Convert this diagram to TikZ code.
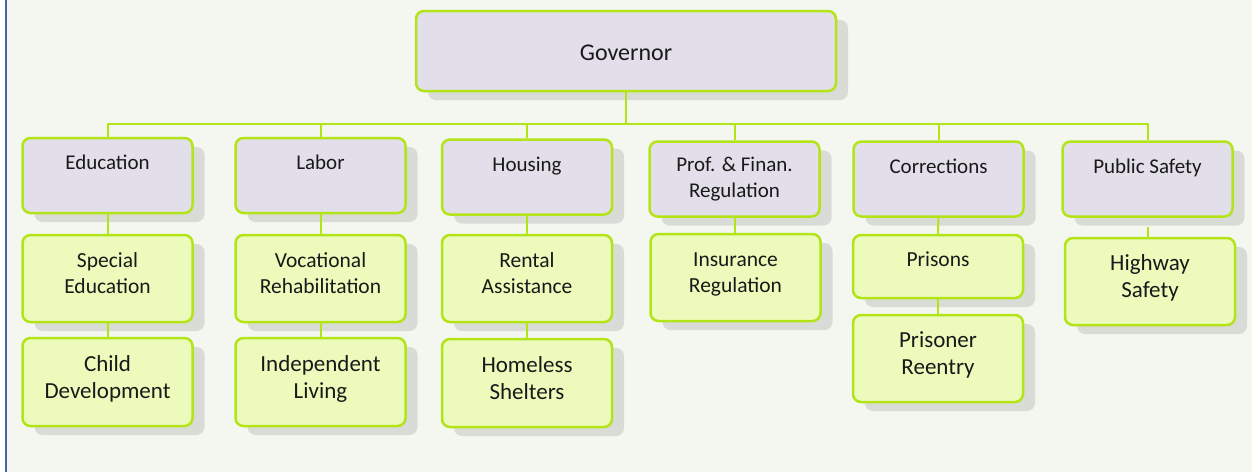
\documentclass[tikz,border=0pt]{standalone}
\usepackage{fontspec}
\setmainfont{Carlito}
\usepackage{tikz}
\usetikzlibrary{shadows}

\definecolor{pagebg}{RGB}{244,247,239}
\definecolor{frameblue}{RGB}{68,106,162}
\definecolor{limeline}{RGB}{178,228,24}
\definecolor{deptfill}{RGB}{227,223,234}
\definecolor{unitfill}{RGB}{236,251,188}
\definecolor{shadowgray}{RGB}{217,219,214}

\tikzset{
  box/.style={draw=limeline, line width=2.5pt, rounded corners=8pt,
    align=center, inner sep=0pt, minimum width=170pt, text=black!90,
    drop shadow={fill=shadowgray, opacity=1, shadow xshift=12pt, shadow yshift=-9pt}},
  dept/.style={box, fill=deptfill, minimum height=75pt, font=\fontsize{21}{26}\selectfont},
  onetop/.style={text depth=26pt},
  unit/.style={box, fill=unitfill, minimum height=87pt, font=\fontsize{21.5}{26}\selectfont, text depth=10pt},
  bigunit/.style={unit, font=\fontsize{23}{27}\selectfont},
  link/.style={draw=limeline, line width=2pt}
}

\begin{document}
\begin{tikzpicture}[x=1pt, y=-1pt]
        \useasboundingbox (0,0) rectangle (1252,472);
        \fill [pagebg] (7,0) rectangle (1252,472);
        \draw [frameblue, line width=2pt] (6,0) -- (6,472);

        \node (gov) at (626,51) [box, fill=deptfill, minimum width=420pt, minimum height=80pt,
            text height=20pt, font=\fontsize{24}{29}\selectfont] {Governor};

        \node (edu) at (107.5,175.5) [dept, onetop] {Education};
        \node (lab) at (320.5,175.5) [dept, onetop] {Labor};
        \node (hou) at (527,177) [dept, onetop] {Housing};
        \node (prof) at (734.5,179) [dept] {Prof. \& Finan.\\Regulation};
        \node (cor) at (938.5,179) [dept, onetop] {Corrections};
        \node (pub) at (1147.5,179) [dept, onetop] {Public Safety};

        \node (sped) at (107.5,278.5) [unit] {Special\\Education};
        \node (child) at (107.5,382) [bigunit, minimum height=88pt] {Child\\Development};
        \node (voc) at (320.5,278.5) [unit] {Vocational\\Rehabilitation};
        \node (indep) at (320.5,382) [bigunit, minimum height=88pt] {Independent\\Living};
        \node (rent) at (527,278.5) [unit] {Rental\\Assistance};
        \node (home) at (527,383) [bigunit, minimum height=88pt] {Homeless\\Shelters};
        \node (ins) at (735.5,277.5) [unit] {Insurance\\Regulation};
        \node (pris) at (938,266.5) [unit, minimum height=63pt, text depth=15pt] {Prisons};
        \node (reent) at (938,358.5) [bigunit] {Prisoner\\Reentry};
        \node (high) at (1150,281.5) [bigunit] {Highway\\Safety};

        % bus line below the governor
        \coordinate (bus) at (626,124);
        \foreach \d in {edu,lab,hou,prof,cor,pub}
            \draw [link] (gov.south) -- (bus) -| (\d.north);

        \draw [link] (edu) -- (sped);
        \draw [link] (sped) -- (child);
        \draw [link] (lab) -- (voc);
        \draw [link] (voc) -- (indep);
        \draw [link] (hou) -- (rent);
        \draw [link] (rent) -- (home);
        \draw [link] (prof.south) -- (prof.south |- ins.north);
        \draw [link] (cor) -- (pris);
        \draw [link] (pris) -- (reent);
        \draw [link, shorten <=9pt] (pub.south) -- (pub.south |- high.north);
    \end{tikzpicture}
\end{document}
